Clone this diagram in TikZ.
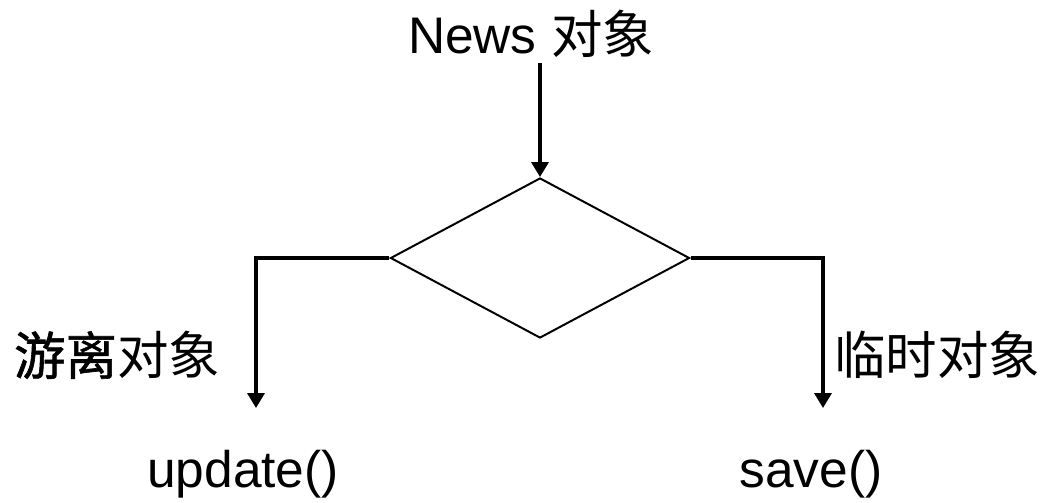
\documentclass[tikz,border=0pt]{standalone}
\usepackage{fontspec}
\setmainfont{Liberation Sans}
\newfontfamily\cjk{Noto Sans CJK SC}
\newfontfamily\cjkb[FakeBold=1.2]{Noto Sans CJK SC}
\usetikzlibrary{shapes.geometric,arrows.meta}
\begin{document}
\begin{tikzpicture}[x=0.025cm, y=-0.025cm,
        main/.style = {draw, diamond, line width=1.4pt, inner sep=0pt,
            minimum width=7.475cm, minimum height=4cm},
        lbl/.style = {inner sep=0pt, font=\fontsize{36.6}{44}\selectfont},
        arr/.style = {line width=2.2pt, -{Triangle[width=12pt, length=10.5pt]}}]
        \useasboundingbox (0,0) rectangle (1048,502);
        \node[lbl, anchor=base] (1) at (531,53) {News {\cjk 对象}};
        \node[main] (2) at (540,258) {};
        \node[lbl] (3) at (117,355) {{\cjkb 游离}{\cjk 对象}};
        \node[lbl] (4) at (937,355) {\cjk 临时对象};
        \node[lbl, anchor=base] (5) at (243,487) {update()};
        \node[lbl, anchor=base] (6) at (811,487) {save()};
        \coordinate (7) at (256,408);
        \coordinate (8) at (823,408);
        \draw[arr] ([yshift=-0.15cm]1.south -| 2.north) -- (2.north);
        \draw[arr] (2.west) -| (7);
        \draw[arr] (2.east) -| (8);
    \end{tikzpicture}
\end{document}
